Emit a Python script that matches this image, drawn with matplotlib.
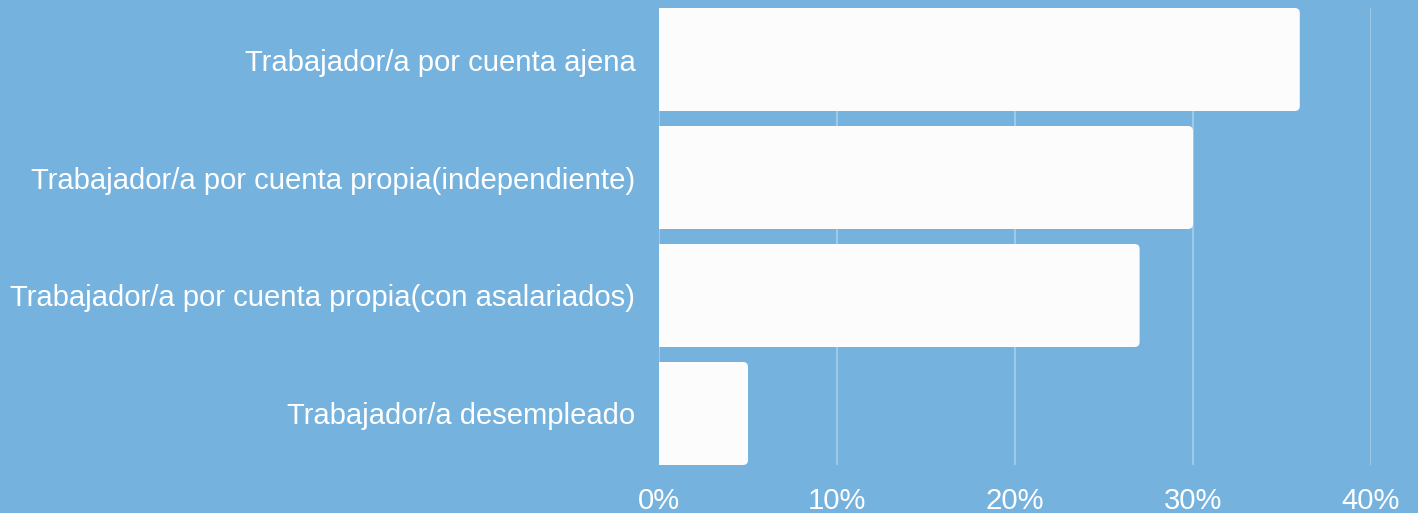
import matplotlib.pyplot as plt
from matplotlib.patches import FancyBboxPatch, Rectangle

categorias = [
    'Trabajador/a por cuenta ajena',
    'Trabajador/a por cuenta propia(independiente)',
    'Trabajador/a por cuenta propia(con asalariados)',
    'Trabajador/a desempleado',
]
porcentajes = [36, 30, 27, 5]
ticks = [0, 10, 20, 30, 40]
tick_labels = ['0%', '10%', '20%', '30%', '40%']

fondo = '#75b2de'
blanco = '#fcfcfc'
plt.rcParams['font.family'] = ['Liberation Sans', 'DejaVu Sans']

fig = plt.figure(figsize=(14.18, 5.13), dpi=100, facecolor=fondo)
ax = fig.add_axes([659 / 1418, 1 - 465 / 513, 712 / 1418, 457 / 513])
ax.set_facecolor(fondo)

alto = 0.873
ys = list(range(len(categorias)))
bars = ax.barh(ys, porcentajes, height=alto, color='none')

# barras con esquinas redondeadas solo a la derecha
rx = 0.28
asp = 0.15
for b in bars:
    x0, y0 = b.get_x(), b.get_y()
    w, h = b.get_width(), b.get_height()
    ax.add_patch(FancyBboxPatch((x0, y0), w, h,
                                boxstyle=f'round,pad=0,rounding_size={rx}',
                                mutation_aspect=asp, fc=blanco, ec='none', zorder=3))
    ax.add_patch(Rectangle((x0, y0), w / 2, h, fc=blanco, ec='none', zorder=3))

ax.set_xlim(0, 40)
ax.set_ylim(3 + alto / 2, -alto / 2)
ax.set_xticks(ticks)
ax.set_xticklabels(tick_labels)
ax.set_yticks(ys)
ax.set_yticklabels(categorias)
ax.tick_params(axis='both', length=0, colors='white', labelsize=21.1)
ax.tick_params(axis='y', pad=17)
ax.tick_params(axis='x', pad=16)
ax.grid(axis='x', color='white', alpha=0.3, linewidth=1.5, zorder=0)
ax.set_axisbelow(True)
for s in ax.spines.values():
    s.set_visible(False)

fig.savefig('out.png', dpi=100, facecolor=fondo)
